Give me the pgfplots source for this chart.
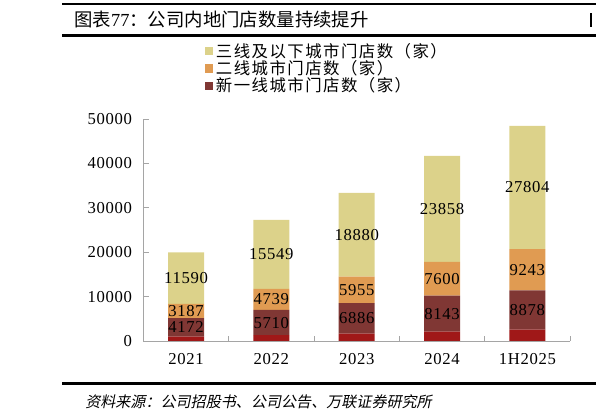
\documentclass[border=0pt]{standalone}
\usepackage{fontspec}
\usepackage{pgfplots}
\usepackage{pgfplotstable}
\pgfplotsset{compat=1.18}
\setmainfont{Liberation Serif}
\newfontfamily\cjk{Noto Sans CJK SC}
\newfontfamily\cjkleg[LetterSpace=9]{Noto Sans CJK SC}
\newfontfamily\cjkit[FakeSlant=0.2]{Noto Sans CJK SC}
\newfontfamily\num[LetterSpace=4]{Liberation Serif}
\definecolor{cY}{RGB}{220,210,138}
\definecolor{cO}{RGB}{224,155,82}
\definecolor{cB}{RGB}{128,55,52}
\definecolor{cR}{RGB}{160,24,24}
\definecolor{axgray}{RGB}{165,165,165}
\pgfplotsset{
  sqlegend/.style={legend image code/.code={\fill[##1] (0pt,-3.1pt) rectangle (6.2pt,3.1pt);}}
}
% x: category index; r: first-tier (unlabelled bottom), b: new first-tier, o: second-tier, y: third-tier and below
\pgfplotstableread{
x r b o y
0 1000 4172 3187 11590
1 1300 5710 4739 15549
2 1650 6886 5955 18880
3 2100 8143 7600 23858
4 2550 8878 9243 27804
}\data
\pgfplotstablecreatecol[create col/expr={\thisrow{r}+0.5*\thisrow{b}}]{bm}\data
\pgfplotstablecreatecol[create col/expr={\thisrow{r}+\thisrow{b}+0.5*\thisrow{o}}]{om}\data
\pgfplotstablecreatecol[create col/expr={\thisrow{r}+\thisrow{b}+\thisrow{o}+0.5*\thisrow{y}}]{ym}\data
\begin{document}
\begin{tikzpicture}
\path[use as bounding box] (0pt,0pt) rectangle (447pt,315pt);
\begin{scope}[x=0.75pt,y=0.75pt]
\draw[line width=2pt] (62,416) -- (596,416);
\draw[line width=2.4pt] (62,384.5) -- (596,384.5);
\draw[line width=2pt] (62,36.5) -- (596,36.5);
\draw[line width=1.2pt] (591,393) -- (591,407);
\node[anchor=west, inner sep=0pt, font=\fontsize{13.8}{15}\selectfont] at (74,400.5) {{\cjk 图表}77{\cjk ：公司内地门店数量持续提升}};
\node[anchor=west, inner sep=0pt, font=\cjkit\fontsize{11.3}{13}\selectfont] at (85,18.5) {资料来源：公司招股书、公司公告、万联证券研究所};
\end{scope}
\begin{axis}[
  at={(107.5pt,59.25pt)}, anchor=south west,
  scale only axis, width=320pt, height=166.5pt,
  ybar stacked, bar width=27pt,
  xmin=-0.5, xmax=4.5, ymin=0, ymax=50000,
  axis x line*=bottom, axis y line*=left,
  axis line style={axgray, line width=0.7pt, -},
  xtick={0,1,2,3,4}, xticklabels={2021,2022,2023,2024,1H2025},
  major x tick style={draw=none},
  minor xtick={0.5,1.5,2.5,3.5,4.5},
  tick align=inside, major tick length=4pt, minor tick length=4pt,
  tick style={axgray, line width=0.7pt},
  ytick={0,10000,20000,30000,40000,50000},
  scaled y ticks=false,
  /pgf/number format/1000 sep={},
  /pgf/number format/assume math mode=true,
  ticklabel style={font=\num\fontsize{12.5}{14}\selectfont, text=black},
  yticklabel style={xshift=-5pt},
  xticklabel style={yshift=-6pt},
  reverse legend,
  legend cell align=left,
  legend style={at={(0.144,1.355)}, anchor=north west, draw=none, fill=none,
    font=\cjkleg\fontsize{12.3}{12.5}\selectfont, inner sep=0pt, row sep=-3pt,
    /tikz/every even column/.append style={column sep=0.5pt}},
  sqlegend,
]
\addplot[fill=cR, draw=none, forget plot] table[x=x, y=r]{\data};
\addplot[fill=cB, draw=none] table[x=x, y=b]{\data};
\addlegendentry{新一线城市门店数（家）}
\addplot[fill=cO, draw=none] table[x=x, y=o]{\data};
\addlegendentry{二线城市门店数（家）}
\addplot[fill=cY, draw=none] table[x=x, y=y]{\data};
\addlegendentry{三线及以下城市门店数（家）}
\end{axis}
\begin{axis}[
  at={(107.5pt,59.25pt)}, anchor=south west,
  scale only axis, width=320pt, height=166.5pt,
  xmin=-0.5, xmax=4.5, ymin=0, ymax=50000,
  hide axis,
  nodes near coords, point meta=explicit symbolic,
  every node near coord/.append style={anchor=center, font=\num\fontsize{12.5}{14}\selectfont, text=black, inner sep=0pt},
]
\addplot[draw=none, mark=none] table[x=x, y=bm, meta=b]{\data};
\addplot[draw=none, mark=none] table[x=x, y=om, meta=o]{\data};
\addplot[draw=none, mark=none] table[x=x, y=ym, meta=y]{\data};
\end{axis}
\end{tikzpicture}
\end{document}
